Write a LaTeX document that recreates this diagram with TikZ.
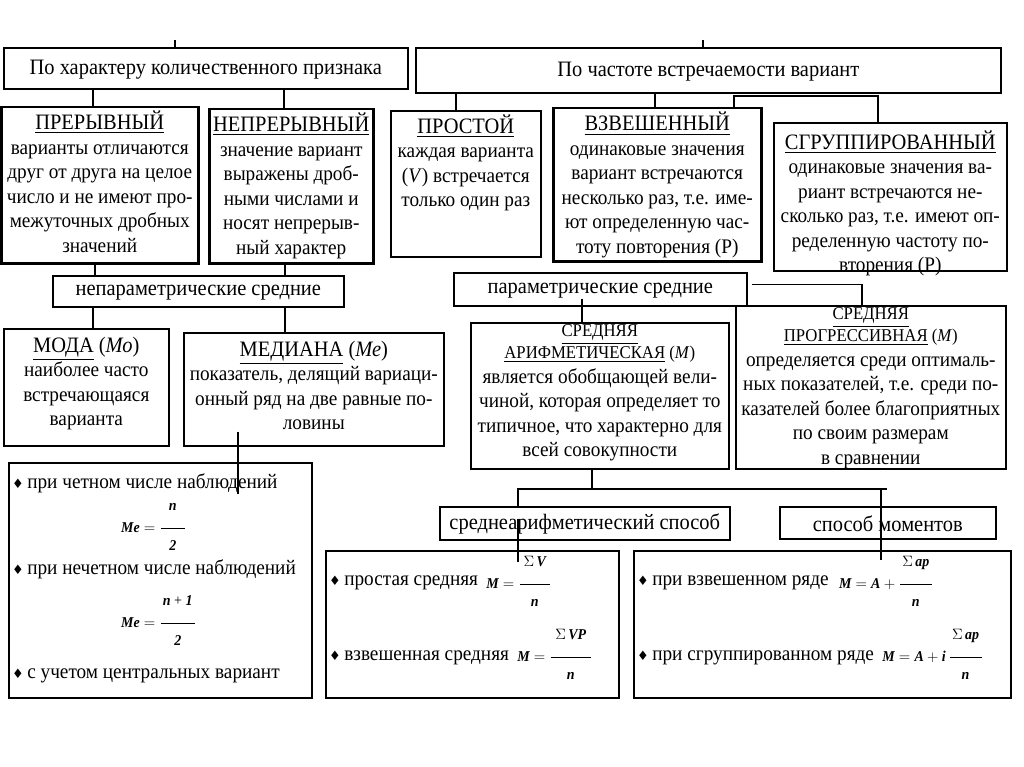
\RequirePackage{fix-cm}
\documentclass[tikz,border=0pt]{standalone}
\usepackage{amsmath}
\usepackage{fontspec}
\setmainfont{Liberation Serif}[FakeStretch=0.93]
\newfontfamily\symfont{DejaVu Sans}
\newcommand{\topcell}[4][4pt]{\parbox[t][#3][t]{#2}{\centering\vspace*{#1}#4}}
\newcommand{\midcell}[3]{\parbox[t][#2][c]{#1}{\centering\vspace*{2pt}#3}}
\newcommand{\hfont}{\fontsize{22}{24.5}\selectfont}
\newcommand{\sfont}{\fontsize{18}{22}\selectfont}
\newcommand{\bul}{{\symfont\fontsize{13}{13}\selectfont ♦}}
\newcommand{\vi}[1]{\text{\bfseries\itshape #1}}
\newcommand{\frc}[3]{\dfrac{\makebox[#1]{#2}\rule[-16pt]{0pt}{0pt}}{\rule{0pt}{20pt}#3}}
\begin{document}
\begin{tikzpicture}[x=1pt,y=-1pt,
  blk/.style={draw, line width=1.6pt, inner sep=0pt, anchor=north west, font=\fontsize{20.7}{24.5}\selectfont},
  heavy/.style={blk, line width=2.5pt},
  one/.style={blk, font=\hfont},
  txt/.style={inner sep=0pt, anchor=base west, font=\fontsize{20.7}{24.5}\selectfont},
  frm/.style={inner sep=0pt, anchor=base west, font=\fontsize{15}{17}\selectfont},
  link/.style={line width=1.6pt}]
\path[use as bounding box] (0,0) rectangle (1024,767);
%% first level
\node[one] (crit1) at (3,47) {\midcell{404pt}{41pt}{По характеру количественного признака}};
\node[one] (crit2) at (415,47) {\midcell{585pt}{45pt}{По частоте встречаемости вариант}};
\coordinate (top1) at (175,40);
\coordinate (top2) at (703,40);
\draw[link] (top1) -- (top1 |- crit1.north);
\draw[link] (top2) -- (top2 |- crit2.north);
%% kinds of series
\node[heavy] (prer) at (0,106) {\topcell{197pt}{156pt}{{\hfont\underline{ПРЕРЫВНЫЙ}}\\ варианты отличаются\\ друг от друга на целое\\ число и не имеют про-\\ межуточных дробных\\ значений}};
\node[heavy] (neprer) at (208,108) {\topcell{164pt}{154pt}{{\hfont\underline{НЕПРЕРЫВНЫЙ}}\\ значение вариант\\ выражены дроб-\\ ными числами и\\ носят непрерыв-\\ ный характер}};
\node[blk] (prost) at (390,110) {\topcell{150pt}{146pt}{{\hfont\underline{ПРОСТОЙ}}\\ каждая варианта\\ (\textit{V}) встречается\\ только один раз}};
\node[heavy] (vzv) at (552,107) {\topcell{208pt}{153pt}{{\hfont\underline{ВЗВЕШЕННЫЙ}}\\ одинаковые значения\\ вариант встречаются\\ несколько раз, т.е. име-\\ ют определенную час-\\ тоту повторения (Р)}};
\node[blk] (grup) at (773,122) {\topcell[8pt]{233pt}{148pt}{{\hfont\underline{СГРУППИРОВАННЫЙ}}\\ одинаковые значения ва-\\ риант встречаются не-\\ сколько раз, т.е. имеют оп-\\ ределенную частоту по-\\ вторения (Р)}};
\draw[link] (93,0 |- crit1.south) -- (93,0 |- prer.north);
\draw[link] (284,0 |- crit1.south) -- (284,0 |- neprer.north);
\draw[link] (456,0 |- crit2.south) -- (456,0 |- prost.north);
\draw[link] (655,0 |- crit2.south) -- (655,0 |- vzv.north);
\draw[link] (734,0 |- vzv.north) |- (878,96) -- (878,0 |- grup.north);
%% kinds of averages
\node[one] (neparam) at (52,275) {\midcell{291pt}{31pt}{непараметрические средние}};
\node[one] (param) at (453,272) {\midcell{293pt}{33pt}{параметрические средние}};
\draw[link] (95,0 |- prer.south) -- (95,0 |- neparam.north);
\draw[link] (285,0 |- neprer.south) -- (285,0 |- neparam.north);
\node[blk] (moda) at (3,328) {\topcell[8pt]{165pt}{117pt}{{\hfont\underline{МОДА} (\textit{Мо})}\\ наиболее часто\\ встречающаяся\\ варианта}};
\node[blk] (med) at (183,332) {\topcell[8pt]{260pt}{113pt}{{\hfont\underline{МЕДИАНА} (\textit{Ме})}\\ показатель, делящий вариаци-\\ онный ряд на две равные по-\\ ловины}};
\draw[link] (93,0 |- neparam.south) -- (93,0 |- moda.north);
\draw[link] (285,0 |- neparam.south) -- (285,0 |- med.north);
\node[blk] (arif) at (470,322) {\topcell[2pt]{258pt}{146pt}{{\sfont\underline{СРЕДНЯЯ}\\ \underline{АРИФМЕТИЧЕСКАЯ} (\textit{М})\\}является обобщающей вели-\\ чиной, которая определяет то\\ типичное, что характерно для\\ всей совокупности}};
\node[blk] (progr) at (735,305) {\topcell[2pt]{270pt}{163pt}{{\sfont\underline{СРЕДНЯЯ}\\ \underline{ПРОГРЕССИВНАЯ} (\textit{М})\\}определяется среди оптималь-\\ ных показателей, т.е. среди по-\\ казателей более благоприятных\\ по своим размерам\\ в сравнении}};
\draw[link] (582,0 |- param.south) ++(0,-8) -- (582,0 |- arif.north);
\draw[link] ([yshift=5pt]param.east) ++(4,0) -| (862,0 |- progr.north);
%% median formulas
\node[blk, minimum width=303pt, minimum height=235pt] (fmMe) at (8,462) {};
\node[txt] (me1) at (12,488) {\bul\,при четном числе наблюдений};
\node[frm] (me1f) at (121,532) {$\vi{Me} = \frc{24pt}{\vi{n}}{\vi{2}}$};
\node[txt] (me2) at (12,574) {\bul\,при нечетном числе наблюдений};
\node[frm] (me2f) at (121,627) {$\vi{Me} = \frc{34pt}{\vi{n} + \vi{1}}{\vi{2}}$};
\node[txt] (me3) at (12,678) {\bul\,с учетом центральных вариант};
\draw[link] (238,0 |- med.south) ++(0,-15) -- (238,494);
%% ways of computing
\node[one] (sredne) at (439,506) {\midcell{290pt}{33pt}{среднеарифметический способ}};
\node[one] (moment) at (779,506) {\midcell{216pt}{32pt}{способ моментов}};
\coordinate (hub) at (592,489);
\draw[link] (592,0 |- arif.south) -- (hub);
\draw[link] (518,0 |- sredne.north) |- (887,489);
\draw[link] (881,489) -- (881,560);
\node[blk, minimum width=293pt, minimum height=147pt] (fmL) at (325,550) {};
\node[blk, minimum width=377pt, minimum height=147pt] (fmR) at (633,550) {};
\node[txt] (sl1) at (329,585) {\bul\,простая средняя};
\node[frm] (sl1f) at ([xshift=8pt,yshift=-3pt]sl1.base east) {$\vi{M} = \frc{30pt}{$\Sigma\,\vi{V}$}{\vi{n}}$};
\node[txt] (sl2) at (329,660) {\bul\,взвешенная средняя};
\node[frm] (sl2f) at ([xshift=8pt,yshift=-1pt]sl2.base east) {$\vi{M} = \frc{40pt}{$\Sigma\,\vi{VP}$}{\vi{n}}$};
\node[txt] (sr1) at (637,585) {\bul\,при взвешенном ряде};
\node[frm] (sr1f) at ([xshift=10pt,yshift=-3pt]sr1.base east) {$\vi{M} = \vi{A} + \frc{32pt}{$\Sigma\,\vi{ap}$}{\vi{n}}$};
\node[txt] (sr2) at (637,660) {\bul\,при сгруппированном ряде};
\node[frm] (sr2f) at ([xshift=8pt,yshift=-1pt]sr2.base east) {$\vi{M} = \vi{A} + \vi{i}\,\frc{32pt}{$\Sigma\,\vi{ap}$}{\vi{n}}$};
\draw[link] (518,0 |- sredne.center) ++(0,-4) -- (518,562);
\end{tikzpicture}
\end{document}
